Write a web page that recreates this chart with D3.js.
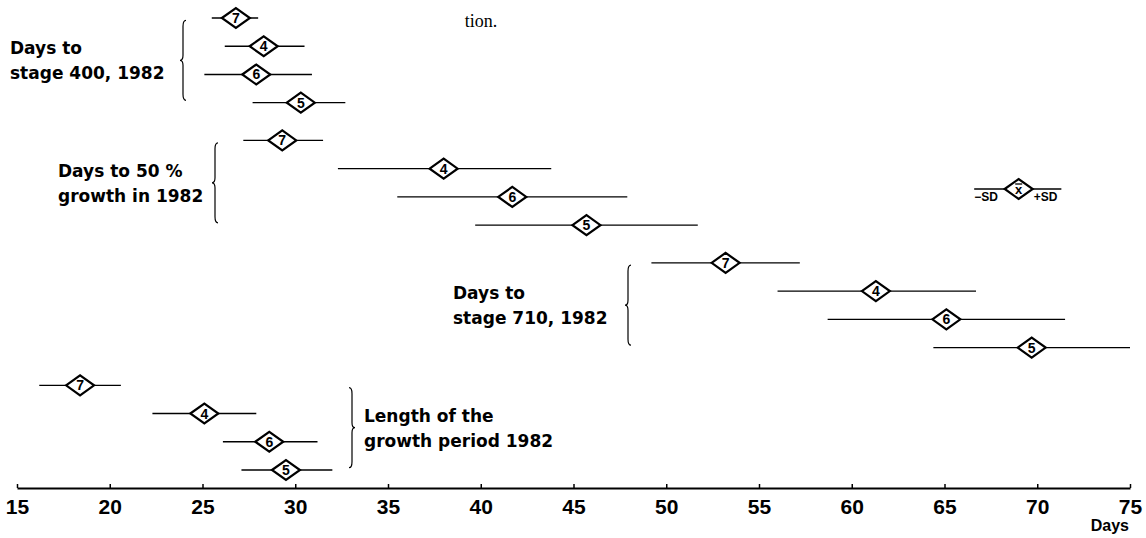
<!DOCTYPE html>
<html>
<head>
<meta charset="utf-8">
<script src="https://cdn.jsdelivr.net/npm/d3@7"></script>
<style>
  html, body { margin: 0; padding: 0; background: #fff; }
  svg { display: block; }
</style>
</head>
<body>
<svg id="chart" width="1146" height="538"></svg>
<script>
// ---- data ----
const xTicks = [15, 20, 25, 30, 35, 40, 45, 50, 55, 60, 65, 70, 75];
const cultivars = ["7", "4", "6", "5"];
const groupLabels = [
  ["Days to", "stage 400, 1982"],
  ["Days to 50 %", "growth in 1982"],
  ["Days to", "stage 710, 1982"],
  ["Length of the", "growth period 1982"]
];
// mean, mean - SD, mean + SD (days) per cultivar (7, 4, 6, 5)
const stage400Mean = [26.8, 28.3, 27.9, 30.3];
const stage400Low  = [25.5, 26.2, 25.1, 27.7];
const stage400High = [28.0, 30.5, 30.9, 32.7];

const growth50Mean = [29.3, 38.0, 41.7, 45.7];
const growth50Low  = [27.2, 32.3, 35.5, 39.7];
const growth50High = [31.5, 43.8, 47.9, 51.7];

const stage710Mean = [53.2, 61.3, 65.1, 69.7];
const stage710Low  = [49.2, 56.0, 58.7, 64.4];
const stage710High = [57.2, 66.7, 71.5, 75.0];

const lengthMean = [18.4, 25.1, 28.6, 29.5];
const lengthLow  = [16.2, 22.3, 26.1, 27.1];
const lengthHigh = [20.6, 27.9, 31.2, 32.0];

const legendMean = 69.0, legendLow = 66.6, legendHigh = 71.3;

// ---- layout ----
const svg = d3.select("#chart");
const x = d3.scaleLinear().domain([15, 75]).range([17, 1130]);
const groupGap = 0.335;
const y = d3.scaleLinear().domain([0, 15 + 3 * groupGap]).range([18, 470]);
const slot = (g, r) => g * 4 + r + g * groupGap;

const groups = [
  {mean: stage400Mean, low: stage400Low, high: stage400High, braceX: 183, side: -1, labelX: 10},
  {mean: growth50Mean, low: growth50Low, high: growth50High, braceX: 215, side: -1, labelX: 58},
  {mean: stage710Mean, low: stage710Low, high: stage710High, braceX: 628, side: -1, labelX: 453},
  {mean: lengthMean,   low: lengthLow,   high: lengthHigh,   braceX: 352, side: 1,  labelX: 364}
];

const rows = [];
groups.forEach((g, gi) => {
  cultivars.forEach((c, ri) => {
    rows.push({c, mean: g.mean[ri], low: g.low[ri], high: g.high[ri], yy: y(slot(gi, ri))});
  });
});

// axis
const axis = d3.axisBottom(x).tickValues(xTicks).tickSizeInner(-4).tickSizeOuter(0).tickPadding(11);
const ax = svg.append("g").attr("transform", "translate(0,488)").call(axis);
ax.select(".domain").attr("stroke", "#000").attr("stroke-width", 2);
ax.selectAll(".tick line").attr("stroke", "#000").attr("stroke-width", 1.5);
ax.selectAll(".tick text")
  .attr("fill", "#000")
  .style("font-family", "'Liberation Sans Narrow', 'Liberation Sans', Arial, sans-serif")
  .style("font-weight", "bold")
  .style("font-size", "21px");
svg.append("text").attr("x", 1129).attr("y", 531).attr("text-anchor", "end")
  .style("font-family", "'Liberation Sans Narrow', 'Liberation Sans', Arial, sans-serif")
  .style("font-weight", "bold").style("font-size", "16px").text("Days");

// rows
const hw = 14, hh = 10;
const diamond = (cx, cy) => `M${cx - hw},${cy} L${cx},${cy - hh} L${cx + hw},${cy} L${cx},${cy + hh} Z`;
const rowG = svg.append("g");
rows.forEach(d => {
  rowG.append("line").attr("x1", x(d.low)).attr("x2", x(d.high))
    .attr("y1", d.yy).attr("y2", d.yy).attr("stroke", "#000").attr("stroke-width", 1.3);
  rowG.append("path").attr("d", diamond(x(d.mean), d.yy))
    .attr("fill", "#fff").attr("stroke", "#000").attr("stroke-width", 2.2).attr("stroke-linejoin", "miter");
  rowG.append("text").attr("x", x(d.mean)).attr("y", d.yy + 5).attr("text-anchor", "middle")
    .style("font-family", "'Liberation Sans', Arial, sans-serif").style("font-weight", "bold")
    .style("font-size", "14px").text(d.c);
});

// braces + group labels
const labelFont = "'DejaVu Sans', sans-serif";
groups.forEach((g, gi) => {
  const yTop = y(slot(gi, 0)), yBot = y(slot(gi, 3));
  const ym = (yTop + yBot) / 2;
  const y1 = ym - 40, y2 = ym + 40;
  const bx = g.braceX, w = 3, d = g.side;
  const p = `M${bx - d * w},${y1} Q${bx},${y1} ${bx},${y1 + 6} L${bx},${ym - 5} Q${bx},${ym} ${bx + d * w},${ym} Q${bx},${ym} ${bx},${ym + 5} L${bx},${y2 - 6} Q${bx},${y2} ${bx - d * w},${y2}`;
  svg.append("path").attr("d", p).attr("fill", "none").attr("stroke", "#000").attr("stroke-width", 1.2);
  const t = svg.append("text").style("font-family", labelFont).style("font-weight", "bold")
    .style("font-size", "17px").attr("fill", "#000");
  t.append("tspan").attr("x", g.labelX).attr("y", ym - 6).text(groupLabels[gi][0]);
  t.append("tspan").attr("x", g.labelX).attr("y", ym + 19).text(groupLabels[gi][1]);
});

// legend
const ly = 189;
svg.append("line").attr("x1", x(legendLow)).attr("x2", x(legendHigh)).attr("y1", ly).attr("y2", ly)
  .attr("stroke", "#000").attr("stroke-width", 1.3);
svg.append("path").attr("d", diamond(x(legendMean), ly)).attr("fill", "#fff")
  .attr("stroke", "#000").attr("stroke-width", 2.2);
svg.append("text").attr("x", x(legendMean)).attr("y", ly + 5).attr("text-anchor", "middle")
  .style("font-family", "'Liberation Sans', Arial, sans-serif").style("font-weight", "bold")
  .style("font-size", "13px").text("x");
svg.append("line").attr("x1", x(legendMean) - 3.5).attr("x2", x(legendMean) + 3.5)
  .attr("y1", ly - 5).attr("y2", ly - 5).attr("stroke", "#000").attr("stroke-width", 1.3);
svg.append("text").attr("x", x(legendLow)).attr("y", ly + 12)
  .style("font-family", "'Liberation Sans', Arial, sans-serif").style("font-weight", "bold")
  .style("font-size", "12px").text("\u2212SD");
svg.append("text").attr("x", x(legendMean) + 15).attr("y", ly + 12)
  .style("font-family", "'Liberation Sans', Arial, sans-serif").style("font-weight", "bold")
  .style("font-size", "12px").text("+SD");

// remnant caption text at top
svg.append("text").attr("x", 481).attr("y", 27).attr("text-anchor", "middle")
  .style("font-family", "'Liberation Serif', serif").style("font-size", "18px").text("tion.");
</script>
</body>
</html>
